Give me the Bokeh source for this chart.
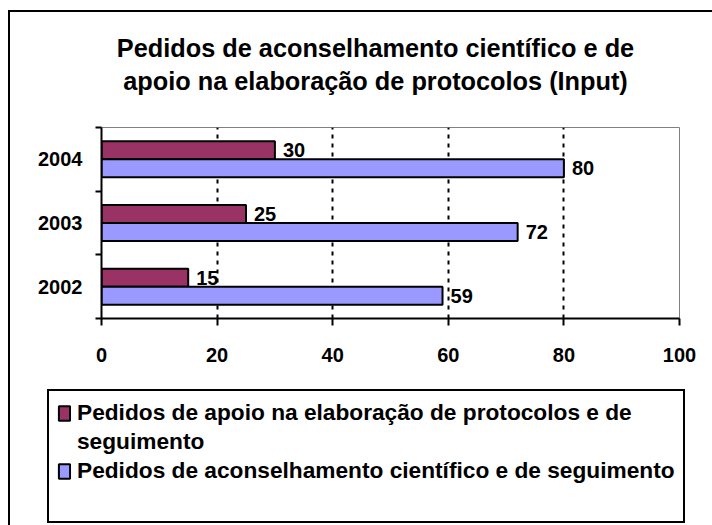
from bokeh.plotting import figure
from bokeh.layouts import column
from bokeh.models import (ColumnDataSource, FixedTicker, LabelSet, Label, Legend, LegendItem,
                          Range1d)
from bokeh.core.properties import value
from bokeh.transform import dodge
from bokeh.embed import file_html
from bokeh.resources import INLINE

years = ["2002", "2003", "2004"]
apoio = [15, 25, 30]
aconselhamento = [59, 72, 80]
x_ticks = [0, 20, 40, 60, 80, 100]
title_lines = ["Pedidos de aconselhamento científico e de",
               "apoio na elaboração de protocolos (Input)"]
label_apoio = ["Pedidos de apoio na elaboração de protocolos e de", "seguimento"]
label_acons = "Pedidos de aconselhamento científico e de seguimento"

FONT = "Liberation Sans"
PURPLE = "#993366"
BLUE = "#9999FF"
W = 702


def blank(height):
    f = figure(width=W, height=height, output_backend="svg", toolbar_location=None,
               x_axis_type=None, y_axis_type=None, x_range=Range1d(0, 1), y_range=Range1d(0, 1),
               min_border=0, frame_align=False)
    f.outline_line_color = None
    f.background_fill_color = "white"
    f.border_fill_color = "white"
    f.xgrid.visible = False
    f.ygrid.visible = False
    return f


# ---- title
pt = blank(100)
for i, t in enumerate(title_lines):
    pt.add_layout(Label(x=365, y=65 - 33 * i, x_units="screen", y_units="screen", text=t,
                        text_align="center", text_baseline="middle", text_font=FONT,
                        text_font_style="bold", text_font_size="25.3px", text_color="black"))

# ---- main chart
ypos = [i + 0.5 for i in range(len(years))]
src = ColumnDataSource(dict(y=ypos, year=years, apoio=apoio, acons=aconselhamento,
                            apoio_t=[str(v) for v in apoio],
                            acons_t=[str(v) for v in aconselhamento]))

p = figure(width=W, height=268, output_backend="svg", toolbar_location=None,
           x_range=Range1d(0, 100), y_range=Range1d(0, len(years)), frame_align=False,
           min_border_left=91, min_border_right=33, min_border_top=15, min_border_bottom=62)
p.background_fill_color = "white"
p.border_fill_color = "white"
p.outline_line_color = "#808080"
p.outline_line_width = 1

BH = 0.283
OFF = 0.1415
r1 = p.hbar(y=dodge("y", OFF), left=0, right="apoio", height=BH, source=src,
            fill_color=PURPLE, line_color="black", line_width=2)
r2 = p.hbar(y=dodge("y", -OFF), left=0, right="acons", height=BH, source=src,
            fill_color=BLUE, line_color="black", line_width=2)

p.ygrid.visible = False
p.xgrid.ticker = FixedTicker(ticks=x_ticks[1:-1])
p.xgrid.grid_line_color = "black"
p.xgrid.grid_line_width = 2
p.xgrid.grid_line_dash = "4 5"

xa = p.xaxis[0]
xa.ticker = FixedTicker(ticks=x_ticks)
xa.axis_line_width = 2
xa.axis_line_color = "black"
xa.major_tick_line_width = 2
xa.major_tick_out = 7
xa.major_tick_in = 0
xa.minor_tick_line_color = None
xa.major_label_standoff = 22
xa.major_label_text_font = FONT
xa.major_label_text_font_style = "bold"
xa.major_label_text_font_size = "20px"
xa.major_label_text_color = "black"

ya = p.yaxis[0]
ya.ticker = FixedTicker(ticks=ypos, minor_ticks=list(range(len(years) + 1)))
ya.major_label_overrides = {y: t for y, t in zip(ypos, years)}
ya.axis_line_width = 2
ya.axis_line_color = "black"
ya.major_tick_out = 0
ya.major_tick_in = 0
ya.minor_tick_out = 6
ya.minor_tick_in = 0
ya.minor_tick_line_width = 2
ya.minor_tick_line_color = "black"
ya.major_label_standoff = 13
ya.major_label_text_font = FONT
ya.major_label_text_font_style = "bold"
ya.major_label_text_font_size = "20px"
ya.major_label_text_color = "black"

for col, off in (("apoio", OFF), ("acons", -OFF)):
    p.add_layout(LabelSet(x=col, y=dodge("y", off), text=col + "_t", source=src, x_offset=8,
                          text_baseline="middle", text_align="left", text_font=value(FONT),
                          text_font_style="bold", text_font_size="20px", text_color="black"))

# ---- legend (its own hidden copies of the series supply the swatches)
pl = blank(145)
g1 = pl.hbar(y="y", left=0, right="apoio", height=BH, source=src,
             fill_color=PURPLE, line_color="black", line_width=2)
g2 = pl.hbar(y="y", left=0, right="acons", height=BH, source=src,
             fill_color=BLUE, line_color="black", line_width=2)
g3 = pl.scatter(x=[], y=[], fill_alpha=0, line_alpha=0)
g1.visible = False
g2.visible = False
legend = Legend(items=[LegendItem(label=label_apoio[0], renderers=[g1]),
                       LegendItem(label=label_apoio[1], renderers=[g3]),
                       LegendItem(label=label_acons, renderers=[g2]),
                       LegendItem(label=" ", renderers=[g3])],
                location=(37, 2), orientation="vertical",
                border_line_color="black", border_line_width=2, border_line_alpha=1,
                background_fill_color="white", background_fill_alpha=1,
                inactive_fill_alpha=0,
                padding=8, margin=0, spacing=2,
                glyph_width=14, glyph_height=18, label_standoff=6, label_height=27,
                label_text_font=FONT, label_text_font_style="bold",
                label_text_font_size="22.7px", label_text_color="black",
                label_text_line_height=1.2)
pl.add_layout(legend, "center")

layout = column(pt, p, pl, spacing=0)
layout.styles = {"margin-left": "8px", "margin-top": "10px",
                 "border-left": "2px solid black", "border-top": "2px solid black"}

open("out.html", "w").write(file_html(layout, INLINE))
